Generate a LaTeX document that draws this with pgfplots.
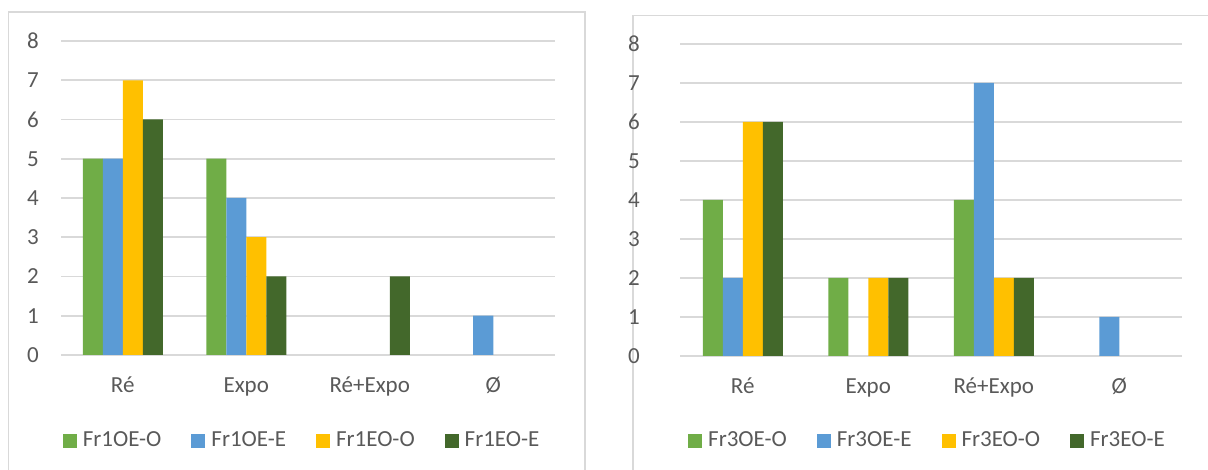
\documentclass[border=0pt]{standalone}
\usepackage{pgfplots}
\pgfplotsset{compat=1.18}
\usepackage{fontspec}
\setmainfont{Carlito}
\definecolor{cGreen}{HTML}{70AD47}
\definecolor{cBlue}{HTML}{5B9BD5}
\definecolor{cYellow}{HTML}{FFC000}
\definecolor{cDark}{HTML}{43682B}
\definecolor{gridgrey}{HTML}{D9D9D9}
\definecolor{txtgrey}{HTML}{595959}

\pgfplotsset{
  excelbar/.style={
    scale only axis, ybar=0pt, bar width=20pt,
    ymin=0, ymax=8, xmin=-0.5, xmax=3.5,
    xtick={0,1,2,3}, xticklabels={Ré,Expo,Ré+Expo,Ø},
    ytick={0,...,8},
    ymajorgrids, major grid style={line width=1.6pt, gridgrey},
    axis line style={draw=none}, major tick length=0pt,
    tick label style={font=\fontsize{23}{27}\selectfont, text=txtgrey},
    /pgf/number format/assume math mode=true,
    yticklabel style={anchor=east, inner sep=0pt, xshift=-22pt},
    xticklabel style={anchor=base, inner sep=0pt, yshift=-38pt},
    legend columns=4,
    legend style={draw=none, fill=none, anchor=center,
      font=\fontsize{23}{27}\selectfont, text=txtgrey,
      /tikz/every even column/.append style={column sep=28pt}},
    legend image code/.code={\fill[##1] (0pt,-8pt) rectangle (14pt,6pt);
      \path (18pt,0pt);},
    every axis plot/.append style={draw=none},
  }
}

\begin{document}
\begin{tikzpicture}
\path[use as bounding box] (0pt,0pt) rectangle (1208pt,470pt);
\draw[gridgrey, line width=1.3pt] (8.5pt,-10pt) -- (8.5pt,458pt) -- (585pt,458pt) -- (585pt,-10pt);
\draw[gridgrey, line width=1.3pt] (633pt,-10pt) -- (633pt,454.5pt) -- (1220pt,454.5pt);

\begin{axis}[excelbar, at={(61pt,115pt)}, anchor=south west,
  width=494pt, height=314pt,
  legend style={at={(0.488,-0.27)}}]
\addplot[fill=cGreen] coordinates {(0,5) (1,5)};
\addplot[fill=cBlue] coordinates {(0,5) (1,4) (3,1)};
\addplot[fill=cYellow] coordinates {(0,7) (1,3)};
\addplot[fill=cDark] coordinates {(0,6) (1,2) (2,2)};
\legend{Fr1OE-O,Fr1OE-E,Fr1EO-O,Fr1EO-E}
\end{axis}

\begin{axis}[excelbar, at={(680pt,114pt)}, anchor=south west,
  width=502pt, height=312pt,
  yticklabel style={xshift=-18pt},
  legend style={at={(0.493,-0.269)}}]
\addplot[fill=cGreen] coordinates {(0,4) (1,2) (2,4)};
\addplot[fill=cBlue] coordinates {(0,2) (2,7) (3,1)};
\addplot[fill=cYellow] coordinates {(0,6) (1,2) (2,2)};
\addplot[fill=cDark] coordinates {(0,6) (1,2) (2,2)};
\legend{Fr3OE-O,Fr3OE-E,Fr3EO-O,Fr3EO-E}
\end{axis}
\end{tikzpicture}
\end{document}
